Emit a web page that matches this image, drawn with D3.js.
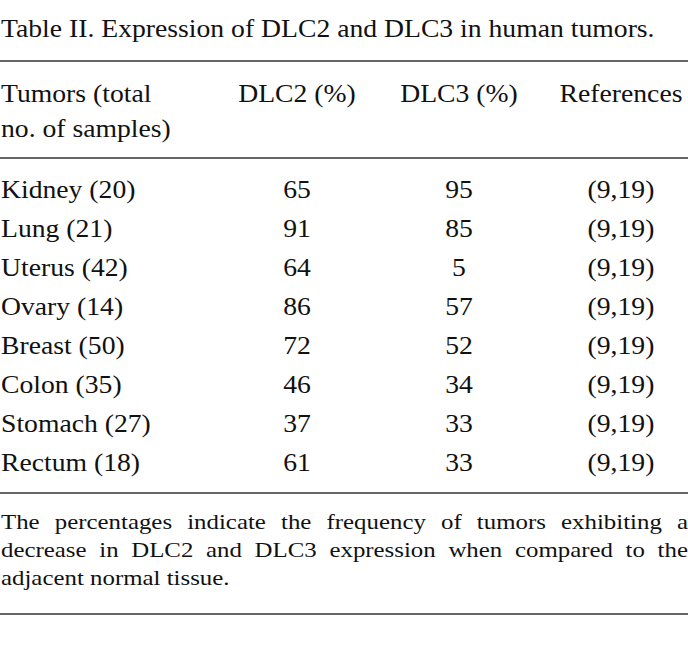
<!DOCTYPE html>
<html>
<head>
<meta charset="utf-8">
<script src="https://cdn.jsdelivr.net/npm/d3@7"></script>
<style>
  body { margin: 0; background: #fff; }
  svg text { font-family: "Liberation Serif", "Times New Roman", serif; fill: #111; }
</style>
</head>
<body>
<svg id="tbl" width="688" height="647"></svg>
<script>
'use strict';

// table content
const title = 'Table II. Expression of DLC2 and DLC3 in human tumors.';
const columns = ['tumor', 'dlc2', 'dlc3', 'refs'];
const headerLines = [
  ['Tumors (total', 'DLC2 (%)', 'DLC3 (%)', 'References'],
  ['no. of samples)', '', '', '']
];
const tumors = ['Kidney', 'Lung', 'Uterus', 'Ovary', 'Breast', 'Colon', 'Stomach', 'Rectum'];
const samples = [20, 21, 42, 14, 50, 35, 27, 18];
const dlc2 = [65, 91, 64, 86, 72, 46, 37, 61];
const dlc3 = [95, 85, 5, 57, 52, 34, 33, 33];
const refs = ['(9,19)', '(9,19)', '(9,19)', '(9,19)', '(9,19)', '(9,19)', '(9,19)', '(9,19)'];
const footnote = [
  'The percentages indicate the frequency of tumors exhibiting a',
  'decrease in DLC2 and DLC3 expression when compared to the',
  'adjacent normal tissue.'
];

const W = 688, H = 647;
const sx = 1.13; // the scan is stretched sideways a bit
const fs = 24.5;
const svg = d3.select('#tbl');

// column x positions (left for first col, centre for the others)
const colX = d3.scaleOrdinal().domain(columns).range([1, 297, 459, 621]);
const colAnchor = d3.scaleOrdinal().domain(columns).range(['start', 'middle', 'middle', 'middle']);

// row baselines
const rowY = d3.scalePoint().domain(tumors).range([198, 471]);
const headY = d3.scalePoint().domain([0, 1]).range([102, 137]);
const noteY = d3.scalePoint().domain([0, 1, 2]).range([529, 585]);

function put(sel, x, y) {
  return sel.attr('transform', 'translate(' + x + ',' + y + ') scale(' + sx + ',1)');
}

// title
put(svg.append('text').attr('font-size', fs).text(title), 1, 37);

// rules
const rules = [61, 158, 493, 614];
svg.selectAll('.rule').data(rules).enter().append('line')
  .attr('class', 'rule')
  .attr('x1', 0).attr('x2', W)
  .attr('y1', d => d).attr('y2', d => d)
  .attr('stroke', '#333').attr('stroke-width', 1.5);

// header
headerLines.forEach(function(line, li) {
  line.forEach(function(txt, ci) {
    if (!txt) return;
    const c = columns[ci];
    put(svg.append('text').attr('font-size', fs)
      .attr('text-anchor', colAnchor(c)).text(txt), colX(c), headY(li));
  });
});

// body rows
const rows = tumors.map(function(t, i) {
  return { tumor: t + ' (' + samples[i] + ')', dlc2: dlc2[i], dlc3: dlc3[i], refs: refs[i], key: t };
});

rows.forEach(function(r) {
  columns.forEach(function(c) {
    put(svg.append('text').attr('font-size', fs)
      .attr('text-anchor', colAnchor(c)).text(r[c]), colX(c), rowY(r.key));
  });
});

// footnote, justified except the last line
const noteSize = 22;
footnote.forEach(function(line, li) {
  const words = line.split(' ');
  const g = svg.append('g');
  const nodes = words.map(w => g.append('text').attr('font-size', noteSize).text(w));
  const widths = nodes.map(n => n.node().getComputedTextLength() * sx);
  const total = d3.sum(widths);
  const last = li === footnote.length - 1;
  const gap = last ? noteSize * 0.25 * sx : (W - 1 - total) / (words.length - 1);
  let x = 1;
  nodes.forEach(function(n, i) {
    put(n, x, noteY(li));
    x += widths[i] + gap;
  });
});
</script>
</body>
</html>
